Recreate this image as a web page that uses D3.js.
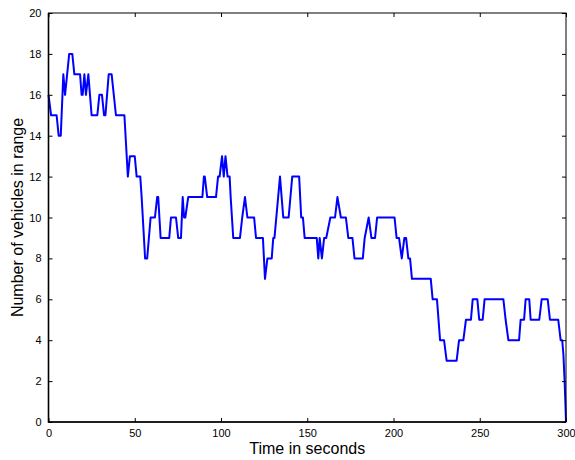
<!DOCTYPE html>
<html>
<head>
<meta charset="utf-8">
<script src="https://cdn.jsdelivr.net/npm/d3@7"></script>
<style>
  body { margin: 0; background: #fff; }
  svg { display: block; font-family: Arial, "Liberation Sans", sans-serif; }
</style>
</head>
<body>
<svg id="chart" width="575" height="460"></svg>
<script>
// breakpoints of the trace (time in s, vehicles in range)
const times = [0, 1.5, 4.7, 5.9, 7.1, 8.6, 9.6, 12, 13.8, 15, 18.3, 19.2, 19.8, 20.8, 21.7, 23.1, 25, 28.3, 29.5, 31,
  32.2, 33, 34.9, 36.6, 39.1, 44, 46, 47.2, 50, 51.1, 53.2, 54, 56, 57.2, 59.2, 61.7, 63, 63.6, 65, 70,
  71, 73.9, 75.2, 76.8, 77.8, 78.6, 79.3, 81, 89.2, 90.1, 90.6, 92, 97.1, 98.3, 99.2, 100.6, 101.6, 102.6, 103.8, 105,
  105.6, 107.1, 111, 112.3, 113.9, 115.3, 119.2, 120.3, 124.3, 125.5, 126.9, 129.4, 130.3, 131, 134.2, 136.1, 139.2, 141.3, 145.3, 146.5,
  147.5, 148.5, 155.5, 156.4, 157.2, 158.5, 159.8, 161, 163.4, 166.1, 167.5, 169.5, 172.4, 173.8, 176.2, 177.4, 182.2, 183.3, 185.6, 187.2,
  189.3, 190.5, 200.6, 201.8, 203.2, 204.8, 206.3, 207.3, 208.6, 209.6, 210.7, 221.6, 222.7, 225.2, 227, 229.3, 230.8, 236.6, 238, 240.5,
  242, 244.9, 245.9, 248.6, 249.7, 251.7, 252.8, 263.7, 265, 266.6, 272.8, 273.7, 275.7, 276.6, 278.7, 279.5, 284.5, 285.9, 289.4, 290.7,
  295.5, 296.9, 297.8, 298.5, 299.2, 299.7, 300];
const vehicles = [16, 15, 15, 14, 14, 17, 16, 18, 18, 17, 17, 16, 16, 17, 16, 17, 15, 15, 16, 16,
  15, 15, 17, 17, 15, 15, 12, 13, 13, 12, 12, 11, 8, 8, 10, 10, 11, 11, 9, 9,
  10, 10, 9, 9, 11, 10, 10, 11, 11, 12, 12, 11, 11, 12, 12, 13, 12, 13, 12, 12,
  11, 9, 9, 10, 11, 10, 10, 9, 9, 7, 8, 8, 9, 9, 12, 10, 10, 12, 12, 10,
  10, 9, 9, 8, 9, 8, 9, 9, 10, 10, 11, 10, 10, 9, 9, 8, 8, 9, 10, 9,
  9, 10, 10, 9, 9, 8, 9, 9, 8, 8, 7, 7, 6, 6, 4, 4, 3, 3, 4, 4,
  5, 5, 6, 6, 5, 5, 6, 6, 5, 4, 4, 5, 5, 6, 6, 5, 5, 6, 6, 5,
  5, 4, 4, 3.3, 2, 0.8, 0];

const xTicks = [0, 50, 100, 150, 200, 250, 300];
const yTicks = [0, 2, 4, 6, 8, 10, 12, 14, 16, 18, 20];

const svg = d3.select('#chart');
const plotL = 48.5, plotR = 566, plotT = 13, plotB = 422;

const x = d3.scaleLinear().domain([0, 300]).range([plotL, plotR]);
const y = d3.scaleLinear().domain([0, 20]).range([plotB, plotT]);

const pts = times.map((t, i) => [t, vehicles[i]]);

// data line
svg.append('path')
  .datum(pts)
  .attr('fill', 'none')
  .attr('stroke', '#0000ff')
  .attr('stroke-width', 2)
  .attr('stroke-linejoin', 'round')
  .attr('d', d3.line().x(d => x(d[0])).y(d => y(d[1])));

// axes, matlab style: inward ticks, box round the plot
const fmtAxis = g => {
  g.selectAll('text').attr('font-size', 11).attr('fill', '#000');
  g.selectAll('line').attr('stroke', '#000');
  g.select('.domain').remove();
};

svg.append('g')
  .attr('transform', `translate(0,${plotB})`)
  .call(d3.axisBottom(x).tickValues(xTicks).tickSize(-4).tickPadding(7))
  .call(fmtAxis);
svg.append('g')
  .attr('transform', `translate(0,${plotT})`)
  .call(d3.axisTop(x).tickValues(xTicks).tickSize(-4).tickFormat(''))
  .call(fmtAxis);
svg.append('g')
  .attr('transform', `translate(${plotL},0)`)
  .call(d3.axisLeft(y).tickValues(yTicks).tickSize(-4).tickPadding(7))
  .call(fmtAxis);
svg.append('g')
  .attr('transform', `translate(${plotR},0)`)
  .call(d3.axisRight(y).tickValues(yTicks).tickSize(-4).tickFormat(''))
  .call(fmtAxis);

svg.append('rect')
  .attr('x', plotL).attr('y', plotT)
  .attr('width', plotR - plotL).attr('height', plotB - plotT)
  .attr('fill', 'none').attr('stroke', '#000').attr('stroke-width', 1);
svg.append('path')
  .attr('d', `M${plotL},${plotT}V${plotB}H${plotR}`)
  .attr('fill', 'none').attr('stroke', '#000').attr('stroke-width', 1.6);

// titles
svg.append('text')
  .attr('x', (plotL + plotR) / 2).attr('y', 454)
  .attr('text-anchor', 'middle').attr('font-size', 16)
  .text('Time in seconds');
svg.append('text')
  .attr('transform', `translate(23,${(plotT + plotB) / 2}) rotate(-90)`)
  .attr('text-anchor', 'middle').attr('font-size', 16)
  .text('Number of vehicles in range');
</script>
</body>
</html>
